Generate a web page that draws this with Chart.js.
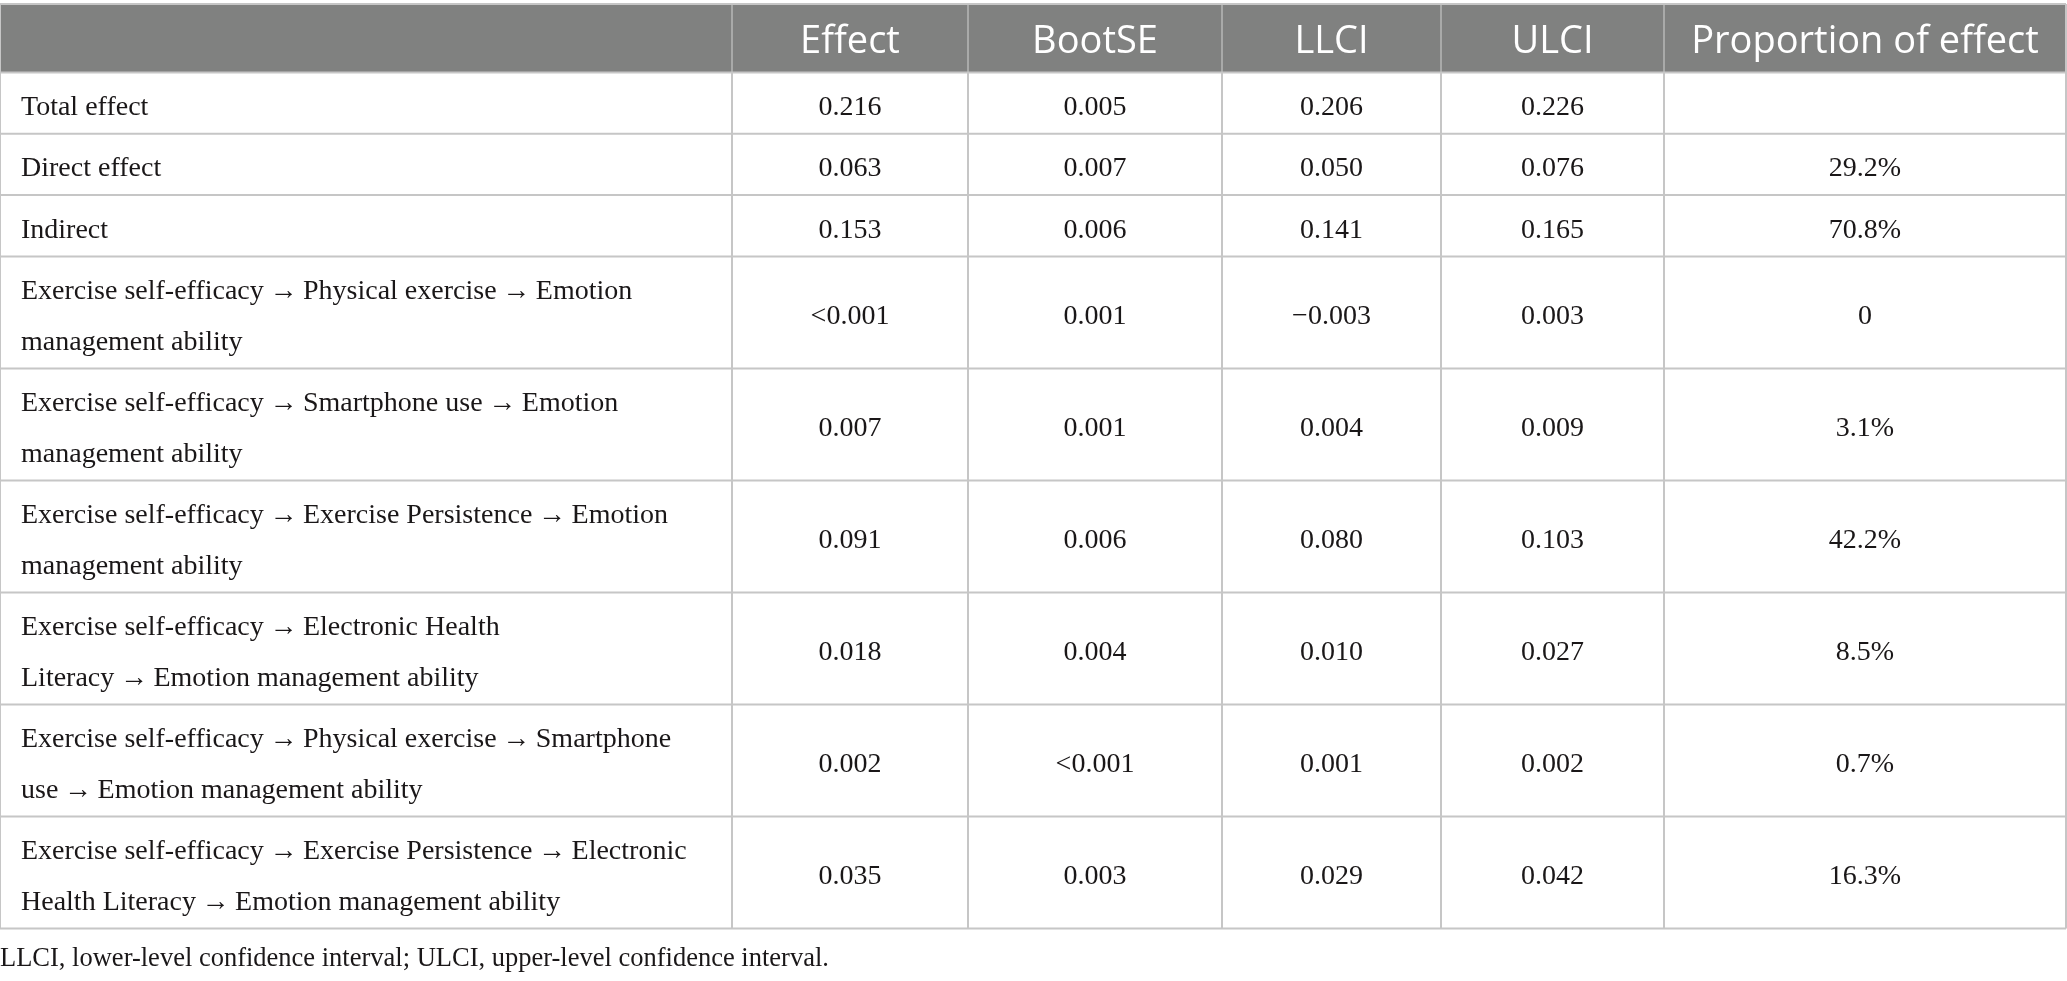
<!DOCTYPE html>
<html>
<head>
<meta charset="utf-8">
<title>Mediation effects</title>
<script src="https://cdn.jsdelivr.net/npm/chart.js@4.4.1/dist/chart.umd.min.js"></script>
<style>
  html, body { margin: 0; padding: 0; background: #fff; }
  #wrap { width: 2067px; height: 981px; }
</style>
</head>
<body>
<div id="wrap"><canvas id="table" width="2067" height="981"></canvas></div>
<script>
// table content
const headers = ["", "Effect", "BootSE", "LLCI", "ULCI", "Proportion of effect"];
const paths = [
    ["Total effect"],
    ["Direct effect"],
    ["Indirect"],
    ["Exercise self-efficacy \u2009\u2192\u2009 Physical exercise \u2009\u2192\u2009 Emotion", "management ability"],
    ["Exercise self-efficacy \u2009\u2192\u2009 Smartphone use \u2009\u2192\u2009 Emotion", "management ability"],
    ["Exercise self-efficacy \u2009\u2192\u2009 Exercise Persistence \u2009\u2192\u2009 Emotion", "management ability"],
    ["Exercise self-efficacy \u2009\u2192\u2009 Electronic Health", "Literacy \u2009\u2192\u2009 Emotion management ability"],
    ["Exercise self-efficacy \u2009\u2192\u2009 Physical exercise \u2009\u2192\u2009 Smartphone", "use \u2009\u2192\u2009 Emotion management ability"],
    ["Exercise self-efficacy \u2009\u2192\u2009 Exercise Persistence \u2009\u2192\u2009 Electronic", "Health Literacy \u2009\u2192\u2009 Emotion management ability"]
].map(p => p.map(s => s.replace(/ \u2009/g, "\u2009").replace(/\u2009 /g, "\u2009")));
const effect = ["0.216", "0.063", "0.153", "<0.001", "0.007", "0.091", "0.018", "0.002", "0.035"];
const bootSE = ["0.005", "0.007", "0.006", "0.001", "0.001", "0.006", "0.004", "<0.001", "0.003"];
const llci = ["0.206", "0.050", "0.141", "\u22120.003", "0.004", "0.080", "0.010", "0.001", "0.029"];
const ulci = ["0.226", "0.076", "0.165", "0.003", "0.009", "0.103", "0.027", "0.002", "0.042"];
const proportion = ["", "29.2%", "70.8%", "0", "3.1%", "42.2%", "8.5%", "0.7%", "16.3%"];
const footnote = "LLCI, lower-level confidence interval; ULCI, upper-level confidence interval.";

// layout
const colWidths = [732, 236, 254, 219, 223, 402];
const headerHeight = 68.5;
const rowPad = 10.6;
const lineStep = 50.7;
const textInset = 21;

const columns = [paths, effect, bootSE, llci, ulci, proportion];
const colEdges = [0];
colWidths.forEach(w => colEdges.push(colEdges[colEdges.length - 1] + w));
const rowEdges = [0, headerHeight];
paths.forEach(p => rowEdges.push(rowEdges[rowEdges.length - 1] + rowPad + lineStep * p.length));
const tableWidth = colEdges[colEdges.length - 1];
const tableHeight = rowEdges[rowEdges.length - 1];

const serif = '"Liberation Serif", "Times New Roman", serif';
const sans = '"Open Sans", "Noto Sans", sans-serif';

// one dataset per column, one point per cell centre
const datasets = columns.map((col, c) => ({
    label: headers[c] || "Path",
    data: col.map((v, r) => ({
        x: (colEdges[c] + colEdges[c + 1]) / 2,
        y: (rowEdges[r + 1] + rowEdges[r + 2]) / 2,
        text: v
    })),
    pointRadius: 0,
    pointHoverRadius: 0
}));

const tablePlugin = {
    id: "tableCells",
    afterDatasetsDraw(chart) {
        const ctx = chart.ctx;
        const xs = chart.scales.x;
        const ys = chart.scales.y;
        const px = v => xs.getPixelForValue(v);
        const py = v => ys.getPixelForValue(v);
        ctx.save();

        // header band
        ctx.fillStyle = "#808180";
        ctx.fillRect(px(0), py(0), px(tableWidth) - px(0), py(headerHeight) - py(0));

        // header separators
        ctx.strokeStyle = "#a9aaa9";
        ctx.lineWidth = 2;
        for (let c = 1; c < colEdges.length - 1; c++) {
            ctx.beginPath();
            ctx.moveTo(px(colEdges[c]), py(0));
            ctx.lineTo(px(colEdges[c]), py(headerHeight));
            ctx.stroke();
        }

        // body grid
        ctx.strokeStyle = "#c6c6c6";
        for (let r = 0; r < rowEdges.length; r++) {
            if (r === 1) continue;
            ctx.beginPath();
            ctx.moveTo(px(0), py(rowEdges[r]));
            ctx.lineTo(px(tableWidth), py(rowEdges[r]));
            ctx.stroke();
        }
        ctx.beginPath();
        ctx.moveTo(px(0), py(headerHeight));
        ctx.lineTo(px(tableWidth), py(headerHeight));
        ctx.stroke();
        colEdges.forEach((e, c) => {
            ctx.beginPath();
            ctx.moveTo(px(e), py(c === 0 || c === colEdges.length - 1 ? 0 : headerHeight));
            ctx.lineTo(px(e), py(tableHeight));
            ctx.stroke();
        });

        // header labels
        ctx.fillStyle = "#ffffff";
        ctx.font = "38px " + sans;
        ctx.textAlign = "center";
        ctx.textBaseline = "alphabetic";
        headers.forEach((h, c) => {
            if (!h) return;
            ctx.fillText(h, px((colEdges[c] + colEdges[c + 1]) / 2), py(headerHeight / 2) + 15);
        });

        // cell texts at the point positions
        ctx.fillStyle = "#1a1718";
        ctx.font = "28px " + serif;
        chart.data.datasets.forEach((ds, c) => {
            const meta = chart.getDatasetMeta(c);
            meta.data.forEach((pt, r) => {
                const val = ds.data[r].text;
                const lines = Array.isArray(val) ? val : [val];
                const step = py(lineStep) - py(0);
                lines.forEach((line, i) => {
                    const y = pt.y + 12 + (i - (lines.length - 1) / 2) * step;
                    if (c === 0) {
                        ctx.textAlign = "left";
                        ctx.fillText(line, px(colEdges[0]) + textInset, y);
                    } else {
                        ctx.textAlign = "center";
                        ctx.fillText(line, pt.x, y);
                    }
                });
            });
        });

        // footnote
        ctx.font = "26.5px " + serif;
        ctx.textAlign = "left";
        ctx.fillText(footnote, chart.chartArea.left, chart.chartArea.bottom + 38);
        ctx.restore();
    }
};

function drawTable() {
    new Chart(document.getElementById("table"), {
        type: "scatter",
        data: { datasets },
        options: {
            responsive: false,
            animation: false,
            events: [],
            layout: { padding: { left: 0, right: 2067 - tableWidth, top: 4, bottom: 981 - 4 - tableHeight } },
            scales: {
                x: { type: "linear", min: 0, max: tableWidth, display: false },
                y: { type: "linear", min: 0, max: tableHeight, reverse: true, display: false }
            },
            plugins: { legend: { display: false }, tooltip: { enabled: false } }
        },
        plugins: [tablePlugin]
    });
}

Promise.all([
    document.fonts.load('38px "Open Sans"'),
    document.fonts.load('28px "Liberation Serif"')
]).then(drawTable, drawTable);
</script>
</body>
</html>
